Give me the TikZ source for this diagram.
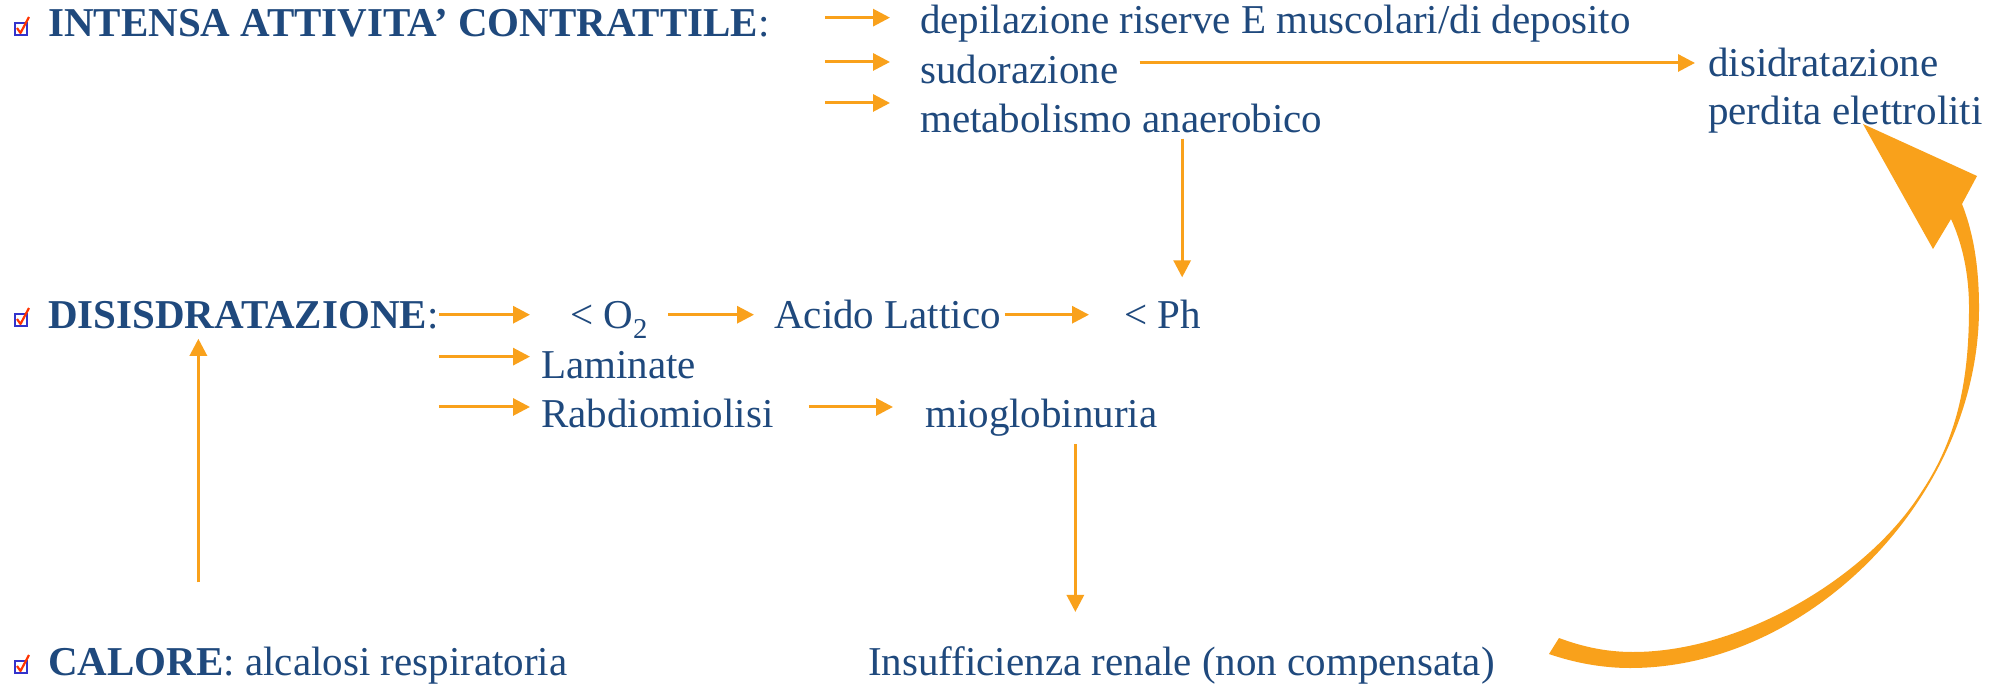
\documentclass[tikz,border=0pt]{standalone}
\usepackage{fontspec}
\setmainfont{Liberation Serif}
\usetikzlibrary{arrows.meta}
\definecolor{slidenavy}{HTML}{1F497D}
\definecolor{slideorange}{HTML}{F9A11B}
\definecolor{tickblue}{HTML}{3333CC}
\definecolor{tickred}{HTML}{FF3300}

\begin{document}
\begin{tikzpicture}[x=1pt,y=-1pt,>={Triangle[length=17pt,width=17pt]}]
  \tikzstyle{txt}=[inner sep=0pt, anchor=base west, text=slidenavy, font=\fontsize{41}{49}\selectfont]
  \tikzstyle{flow}=[->, draw=slideorange, line width=3pt]
  \tikzstyle{bigarrow}=[fill=slideorange]

  \fill[white] (0,0) rectangle (2002,685);
  \useasboundingbox (0,0) rectangle (2002,685);

  % checkbox bullets
  \foreach \b in {37,328,675} {
    \draw[tickblue, line width=1.7pt] (15,\b-2) rectangle (27,\b-14);
    \draw[tickred, line width=2.2pt, line join=round] (17,\b-9) -- (20.5,\b-4) -- (29,\b-20);
  }

  \node[txt] (intensa) at (48,37) {\textbf{INTENSA ATTIVITA’ CONTRATTILE}:};
  \node[txt] (depil) at (920,34) {depilazione riserve E muscolari/di deposito};
  \node[txt] (sudor) at (920,83) {sudorazione};
  \node[txt] (metab) at (920,132) {metabolismo anaerobico};
  \node[txt] (disid) at (1708,77) {disidratazione};
  \node[txt] (perdita) at (1708,124) {perdita elettroliti};

  \node[txt] (disis) at (48,328) {\textbf{DISISDRATAZIONE}:};
  \node[txt] (ossigeno) at (570,328) {< O\textsubscript{2}};
  \node[txt] (acido) at (774,328) {Acido Lattico};
  \node[txt] (ph) at (1124,328) {< Ph};
  \node[txt] (laminate) at (541,378) {Laminate};
  \node[txt] (rabdio) at (541,427) {Rabdiomiolisi};
  \node[txt] (mioglo) at (925,427) {mioglobinuria};

  \node[txt] (calore) at (48,675) {\textbf{CALORE}: alcalosi respiratoria};
  \node[txt] (insuff) at (868,675) {Insufficienza renale (non compensata)};

  \foreach \n/\dy in {depil/6.5,sudor/7,metab/15}
    \draw[flow] ([xshift=-95pt,yshift=\dy pt]\n.west) -- ([xshift=-30pt,yshift=\dy pt]\n.west);
  \draw[flow] ([xshift=21pt]sudor.east |- disid.west) -- ([xshift=-13pt]disid.west);
  \draw[flow] ([xshift=61pt,yshift=-6pt]metab.south) coordinate (mdown) -- ([yshift=22pt]mdown |- ph.north);

  \draw[flow] (disis.east) -- ([xshift=-40pt]ossigeno.west |- disis.east);
  \draw[flow] ([xshift=20pt]ossigeno.east |- disis.east) -- ([xshift=-20pt]acido.west |- disis.east);
  \draw[flow] ([xshift=4pt]acido.east |- disis.east) -- ([xshift=-35pt]ph.west |- disis.east);
  \draw[flow] ([yshift=8pt]disis.east |- laminate.west) -- ([xshift=-11pt,yshift=8pt]laminate.west);
  \draw[flow] ([yshift=6pt]disis.east |- rabdio.west) -- ([xshift=-11pt,yshift=6pt]rabdio.west);
  \draw[flow] ([xshift=35pt,yshift=6pt]rabdio.east) coordinate (rb) -- ([xshift=-32pt]mioglo.west |- rb);
  \draw[flow] ([xshift=34pt,yshift=-8pt]mioglo.south) coordinate (mg) -- ([yshift=34pt]mg |- insuff.north);
  \draw[flow] ([xshift=-45pt,yshift=64pt]disis.south |- calore.north) -- ([xshift=-45pt,yshift=-10pt]disis.south);

  % curved arrow back to the electrolytes
  \fill[bigarrow] (1549,654) .. controls (1575,663) and (1603,668) .. (1630,668)
    .. controls (1811,668) and (1979,495) .. (1979,308)
    .. controls (1979,265) and (1973,232) .. (1962,204)
    -- (1977,176) -- (1863,124) -- (1933,249) -- (1951,219)
    .. controls (1962,243) and (1969,273) .. (1969,308)
    .. controls (1969,378) and (1958,437) .. (1922,491)
    .. controls (1869,576) and (1743,652) .. (1633,652)
    .. controls (1607,652) and (1583,647) .. (1559,638)
    -- cycle;
\end{tikzpicture}
\end{document}
